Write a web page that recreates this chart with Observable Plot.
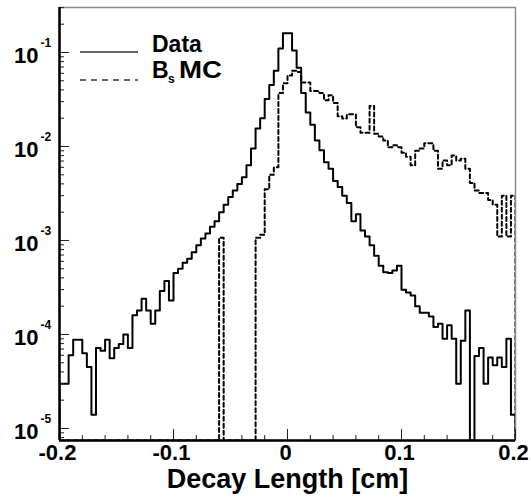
<!DOCTYPE html>
<html>
<head>
<meta charset="utf-8">
<script src="https://cdn.jsdelivr.net/npm/d3@7"></script>
<script src="https://cdn.jsdelivr.net/npm/@observablehq/plot@0.6"></script>
<style>
  body { margin: 0; background: #fff; }
</style>
</head>
<body>
<div id="chart"></div>
<script>
// ---- histogram binning (100 bins from -0.2 to 0.2 cm) ----
const binLow = -0.2;
const binWidth = 0.004;

// ---- Data (solid) : normalised entries per bin ----
const dataValues = [
  3.0e-5, 3.0e-5, 6.0e-5, 8.8e-5, 8.8e-5, 6.3e-5, 4.5e-5, 1.4e-5, 7.2e-5, 6.7e-5,
  8.8e-5, 5.6e-5, 7.2e-5, 7.9e-5, 1.0e-4, 7.2e-5, 1.6e-4, 1.8e-4, 2.4e-4, 1.8e-4,
  1.3e-4, 1.8e-4, 2.9e-4, 3.7e-4, 2.3e-4, 4.5e-4, 5.0e-4, 5.8e-4, 6.4e-4, 7.5e-4,
  8.9e-4, 1.05e-3, 1.19e-3, 1.4e-3, 1.6e-3, 2.0e-3, 2.4e-3, 2.9e-3, 3.4e-3, 4.0e-3,
  4.7e-3, 6.3e-3, 9.5e-3, 1.55e-2, 2.0e-2, 3.2e-2, 4.5e-2, 6.4e-2, 0.11, 0.16,
  0.16, 0.105, 0.069, 0.037, 0.023, 0.017, 0.0116, 0.0091, 0.0068, 0.0058,
  0.0043, 0.0037, 0.0030, 0.0025, 0.0016, 0.0019, 0.00128, 0.0011, 8.9e-4, 6.9e-4,
  5.4e-4, 4.6e-4, 4.5e-4, 4.8e-4, 5.4e-4, 3.0e-4, 2.8e-4, 2.6e-4, 2.0e-4, 1.7e-4,
  1.7e-4, 1.55e-4, 1.2e-4, 1.3e-4, 9.0e-5, 1.25e-4, 9.0e-5, 3.0e-5, 8.6e-5, 1.8e-4,
  0, 5.9e-5, 7.2e-5, 3.0e-5, 5.7e-5, 4.7e-5, 5.7e-5, 4.5e-5, 9.0e-5, 1.4e-5
];

// ---- Bs MC (dashed) ----
const mcValues = [
  0, 0, 0, 0, 0, 0, 0, 0, 0, 0,
  0, 0, 0, 0, 0, 0, 0, 0, 0, 0,
  0, 0, 0, 0, 0, 0, 0, 0, 0, 0,
  0, 0, 0, 0, 0, 1.07e-3, 0, 0, 0, 0,
  0, 0, 0, 1.07e-3, 1.15e-3, 3.5e-3, 5.0e-3, 6.0e-3, 0.037, 0.047,
  0.057, 0.064, 0.062, 0.048, 0.048, 0.039, 0.039, 0.037, 0.031, 0.035,
  0.029, 0.021, 0.0198, 0.022, 0.022, 0.016, 0.014, 0.014, 0.027, 0.0137,
  0.0128, 0.0116, 0.0098, 0.0103, 0.0098, 0.0086, 0.0078, 0.0063, 0.009, 0.0095,
  0.0108, 0.0108, 0.009, 0.0058, 0.0071, 0.0063, 0.008, 0.0071, 0.0074, 0.0058,
  0.0041, 0.0034, 0.0032, 0.0032, 0.0027, 0.0024, 0.0011, 0.003, 0.0011, 0.003
];

// ---- axes ----
const xMajorTicks = [-0.2, -0.1, 0, 0.1, 0.2];
const xMajorLabels = ["-0.2", "-0.1", "0", "0.1", "0.2"];
const xMinorTicks = [-0.18, -0.16, -0.14, -0.12, -0.08, -0.06, -0.04, -0.02,
                     0.02, 0.04, 0.06, 0.08, 0.12, 0.14, 0.16, 0.18];
const yMajorTicks = [1e-1, 1e-2, 1e-3, 1e-4, 1e-5];
const yExponents = ["-1", "-2", "-3", "-4", "-5"];
const yMinorMantissas = [2, 3, 4, 5, 6, 7, 8, 9];
const yDecades = [1e-6, 1e-5, 1e-4, 1e-3, 1e-2, 1e-1];
const xTitle = "Decay Length [cm]";
const legendLabels = ["Data", "B", "s", "MC"];

const yMin = 7.45e-6, yMax = 0.301;

const yMinorTicks = [];
for (const d of yDecades) for (const m of yMinorMantissas) {
  const v = m * d;
  if (v >= yMin && v <= yMax) yMinorTicks.push(v);
}

function steps(values) {
  const pts = [{x: binLow, y: yMin}];
  values.forEach((v, i) => {
    const y = v > 0 ? v : yMin;
    pts.push({x: binLow + i * binWidth, y}, {x: binLow + (i + 1) * binWidth, y});
  });
  pts.push({x: binLow + values.length * binWidth, y: yMin});
  return pts;
}

const W = 531, H = 503, mL = 59, mR = 16, mT = 7, mB = 63;
const plotW = W - mL - mR, plotH = H - mT - mB;
const FONT = "'Liberation Sans', Arial, Helvetica, sans-serif";

const chart = Plot.plot({
  width: W, height: H,
  marginLeft: mL, marginRight: mR, marginTop: mT, marginBottom: mB,
  x: {domain: [-0.2, 0.2], axis: null},
  y: {type: "log", domain: [yMin, yMax], axis: null},
  style: {fontFamily: FONT, background: "white", overflow: "visible"},
  marks: [
    Plot.frame({stroke: "#8c8c8c", strokeWidth: 1.5}),
    Plot.line(steps(mcValues), {x: "x", y: "y", stroke: "#000", strokeWidth: 2,
      strokeDasharray: "4,3", clip: true}),
    Plot.line(steps(dataValues), {x: "x", y: "y", stroke: "#000", strokeWidth: 2,
      clip: true}),
    Plot.ruleX(xMajorTicks, {x: d => d, insetTop: plotH - 11, stroke: "#222", strokeWidth: 1}),
    Plot.ruleX(xMinorTicks, {x: d => d, insetTop: plotH - 5, stroke: "#222", strokeWidth: 1}),
    Plot.ruleY(yMajorTicks, {y: d => d, insetRight: plotW - 10, stroke: "#222", strokeWidth: 1}),
    Plot.ruleY(yMinorTicks, {y: d => d, insetRight: plotW - 5, stroke: "#222", strokeWidth: 1}),
    Plot.ruleX([-0.2], {stroke: "#000", strokeWidth: 2.5}),
    Plot.ruleY([yMin], {stroke: "#000", strokeWidth: 2.5}),
    Plot.text(yMajorTicks, {y: d => d, frameAnchor: "left", text: () => "10",
      textAnchor: "end", dx: -21, dy: 3, fontSize: 22, fontWeight: "bold", fill: "#000"}),
    Plot.text(yMajorTicks, {y: d => d, frameAnchor: "left", text: (d, i) => yExponents[i],
      textAnchor: "start", dx: -19, dy: -9, fontSize: 12, fontWeight: "bold", fill: "#000"}),
    Plot.text(xMajorTicks, {x: d => d, frameAnchor: "bottom", text: (d, i) => xMajorLabels[i],
      lineAnchor: "top", dy: 4, dx: -2, fontSize: 22, fontWeight: "bold", fill: "#000"}),
    Plot.text([xTitle], {frameAnchor: "bottom", text: d => d, dy: 47,
      fontSize: 27, fontWeight: "bold", fill: "#000"})
  ]
});

document.getElementById("chart").appendChild(chart);

// ---- legend (inside the frame, upper left) ----
const svg = d3.select(chart);
const lg = svg.append("g").attr("font-family", FONT).attr("font-weight", "bold")
  .attr("fill", "#000").attr("text-anchor", "start");
lg.append("line").attr("x1", 80).attr("x2", 138).attr("y1", 52).attr("y2", 52)
  .attr("stroke", "#333").attr("stroke-width", 1.3);
lg.append("line").attr("x1", 80).attr("x2", 138).attr("y1", 80).attr("y2", 80)
  .attr("stroke", "#333").attr("stroke-width", 1.3).attr("stroke-dasharray", "6,5");
lg.append("text").attr("x", 152).attr("y", 52).attr("font-size", 23)
  .attr("text-anchor", "start").text(legendLabels[0]);
lg.append("text").attr("x", 152).attr("y", 78).attr("font-size", 23)
  .attr("text-anchor", "start").text(legendLabels[1]);
lg.append("text").attr("x", 168).attr("y", 83).attr("font-size", 12)
  .attr("text-anchor", "start").text(legendLabels[2]);
lg.append("text").attr("x", 179).attr("y", 78).attr("font-size", 23)
  .attr("text-anchor", "start").attr("textLength", 43)
  .attr("lengthAdjust", "spacingAndGlyphs").text(legendLabels[3]);
</script>
</body>
</html>
